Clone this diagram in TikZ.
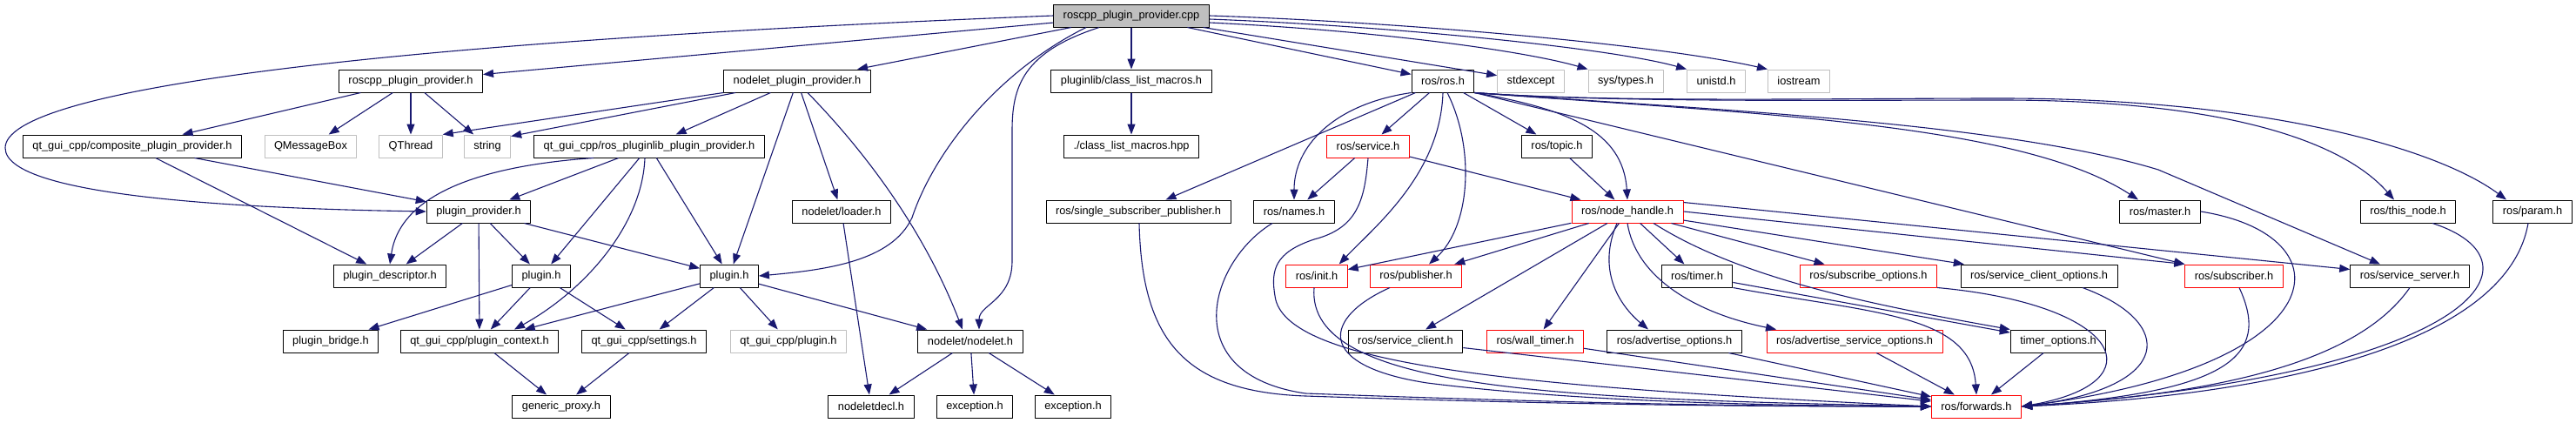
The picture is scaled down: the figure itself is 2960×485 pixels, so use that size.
\documentclass[tikz,border=0pt]{standalone}
\usepackage{fontspec}
\setmainfont{Liberation Sans}
\usetikzlibrary{arrows.meta}
\definecolor{edgeblue}{HTML}{191970}
\definecolor{extgray}{HTML}{BFBFBF}
\begin{document}
\begin{tikzpicture}[x=1pt, y=-1pt, font=\fontsize{12.8pt}{15pt}\selectfont, line join=round, >={Triangle[length=12pt,width=9pt]},
	box/.style={draw=black, fill=white, line width=1pt, minimum height=26pt, inner xsep=11pt, inner ysep=0pt},
	extbox/.style={box, draw=extgray},
	redbox/.style={box, draw=red},
	rootbox/.style={box, fill=extgray},
	edge/.style={->, draw=edgeblue, line width=1.1pt}]
	\def\ya{18} \def\yb{93} \def\yc{168} \def\yd{243}
	\def\ye{317} \def\yf{392} \def\yg{467}
	\fill[white] (0,0) rectangle (2960,485);
	\useasboundingbox (0,0) rectangle (2960,485);
	% rang 0-1
	\node[rootbox] (root) at (1300,\ya) {roscpp\_plugin\_provider.cpp};
	\node[box] (rpph) at (472,\yb) {roscpp\_plugin\_provider.h};
	\node[box] (npph) at (916,\yb) {nodelet\_plugin\_provider.h};
	\node[box] (clm) at (1300,\yb) {pluginlib/class\_list\_macros.h};
	\node[box] (rosh) at (1658,\yb) {ros/ros.h};
	\node[extbox] (stdexc) at (1759,\yb) {stdexcept};
	\node[extbox] (systypes) at (1868,\yb) {sys/types.h};
	\node[extbox] (unistd) at (1972,\yb) {unistd.h};
	\node[extbox] (iostr) at (2067,\yb) {iostream};
	% rang 2
	\node[box] (comp) at (152,\yc) {qt\_gui\_cpp/composite\_plugin\_provider.h};
	\node[extbox] (qmb) at (357,\yc) {QMessageBox};
	\node[extbox] (qthr) at (472,\yc) {QThread};
	\node[extbox] (strg) at (560,\yc) {string};
	\node[box] (rpl) at (746,\yc) {qt\_gui\_cpp/ros\_pluginlib\_plugin\_provider.h};
	\node[box] (clmhpp) at (1300,\yc) {./class\_list\_macros.hpp};
	\node[redbox] (service) at (1572,\yc) {ros/service.h};
	\node[box] (topic) at (1789,\yc) {ros/topic.h};
	% rang 3
	\node[box] (pprov) at (550,\yd) {plugin\_provider.h};
	\node[box] (loader) at (967,\yd) {nodelet/loader.h};
	\node[box] (ssp) at (1308,\yd) {ros/single\_subscriber\_publisher.h};
	\node[box] (names) at (1487,\yd) {ros/names.h};
	\node[redbox] (nh) at (1870,\yd) {ros/node\_handle.h};
	\node[box] (master) at (2482,\yd) {ros/master.h};
	\node[box] (thisnode) at (2767,\yd) {ros/this\_node.h};
	\node[box] (param) at (2910,\yd) {ros/param.h};
	% rang 4
	\node[box] (pdesc) at (448,\ye) {plugin\_descriptor.h};
	\node[box] (plugl) at (622,\ye) {plugin.h};
	\node[box] (plugm) at (838,\ye) {plugin.h};
	\node[redbox] (init) at (1513,\ye) {ros/init.h};
	\node[redbox] (publ) at (1627,\ye) {ros/publisher.h};
	\node[box] (timer) at (1950,\ye) {ros/timer.h};
	\node[redbox] (subopt) at (2147,\ye) {ros/subscribe\_options.h};
	\node[box] (sco) at (2343,\ye) {ros/service\_client\_options.h};
	\node[redbox] (subscr) at (2567,\ye) {ros/subscriber.h};
	\node[box] (sserv) at (2769,\ye) {ros/service\_server.h};
	% rang 5
	\node[box] (bridge) at (380,\yf) {plugin\_bridge.h};
	\node[box] (pctx) at (551,\yf) {qt\_gui\_cpp/plugin\_context.h};
	\node[box] (settings) at (740,\yf) {qt\_gui\_cpp/settings.h};
	\node[extbox] (qplug) at (906,\yf) {qt\_gui\_cpp/plugin.h};
	\node[box] (nodelet) at (1115,\yf) {nodelet/nodelet.h};
	\node[box] (sclient) at (1615,\yf) {ros/service\_client.h};
	\node[redbox] (wtimer) at (1764,\yf) {ros/wall\_timer.h};
	\node[box] (advopt) at (1924,\yf) {ros/advertise\_options.h};
	\node[redbox] (advsrv) at (2131,\yf) {ros/advertise\_service\_options.h};
	\node[box] (topt) at (2365,\yf) {timer\_options.h};
	% rang 6
	\node[box] (gproxy) at (645,\yg) {generic\_proxy.h};
	\node[box] (decl) at (1001,\yg) {nodeletdecl.h};
	\node[box] (excA) at (1120,\yg) {exception.h};
	\node[box] (excB) at (1233,\yg) {exception.h};
	\node[redbox] (fwd) at (2271,\yg) {ros/forwards.h};
	
	% roscpp_plugin_provider.cpp
	\draw[edge] (root)--(rpph);
	\draw[edge] (root)--(npph);
	\draw[edge] (root)--(clm);
	\draw[edge] (root)--(rosh);
	\draw[edge] (root)--(stdexc);
	\draw[edge] ([yshift=-8pt]root.east) .. controls (1580,35) and (1750,58) .. (systypes.north west);
	\draw[edge] ([yshift=-4pt]root.east) .. controls (1600,30) and (1850,55) .. (unistd.north west);
	\draw[edge] (root.east) .. controls (1600,25) and (1900,50) .. (iostr.north west);
	\draw[edge] (root.west) .. controls (400,50) and (6,105) .. (6,170) .. controls (6,228) and (300,240) .. (pprov.west);
	\draw[edge] ([xshift=-52pt]root.south) .. controls (1150,80) and (1075,170) .. (1048,250) .. controls (1025,300) and (950,310) .. (plugm.east);
	\draw[edge] ([xshift=-37pt]root.south) .. controls (1175,60) and (1163,100) .. (1163,150) -- (1163,300) .. controls (1163,345) and (1125,350) .. ([xshift=10pt]nodelet.north);
	% qt_gui_cpp
	\draw[edge] (rpph)--(comp);
	\draw[edge] (rpph)--(qmb);
	\draw[edge] (rpph)--(qthr);
	\draw[edge] (rpph)--(strg);
	\draw[edge] (npph.south west)--(qthr.north east);
	\draw[edge] ([xshift=14pt]npph.south west)--([yshift=-2pt]strg.north east);
	\draw[edge] (npph)--(rpl);
	\draw[edge] (npph)--(loader);
	\draw[edge] (npph)--(plugm);
	\draw[edge] ([xshift=12pt]npph.south) .. controls (990,170) and (1060,260) .. ([xshift=-9pt]nodelet.north);
	\draw[edge] (comp)--(pprov);
	\draw[edge] (comp)--(pdesc);
	\draw[edge] ([xshift=-64pt]rpl.south) .. controls (560,190) and (460,220) .. (pdesc.north);
	\draw[edge] (rpl)--(pprov);
	\draw[edge] (rpl)--(plugl);
	\draw[edge] ([xshift=-5pt]rpl.south) .. controls (738,260) and (670,335) .. ([xshift=40pt]pctx.north);
	\draw[edge] (rpl)--(plugm);
	\draw[edge] (pprov)--(pdesc);
	\draw[edge] (pprov)--(plugl);
	\draw[edge] (pprov)--(pctx);
	\draw[edge] (pprov)--(plugm);
	\draw[edge] (plugl)--(bridge);
	\draw[edge] (plugl)--(pctx);
	\draw[edge] (plugl)--(settings);
	\draw[edge] (plugm)--(pctx);
	\draw[edge] (plugm)--(settings);
	\draw[edge] (plugm)--(qplug);
	\draw[edge] (plugm)--(nodelet);
	\draw[edge] (pctx)--(gproxy);
	\draw[edge] (settings)--(gproxy);
	\draw[edge] (loader)--(decl);
	\draw[edge] (nodelet)--(decl);
	\draw[edge] (nodelet)--(excA);
	\draw[edge] (nodelet)--(excB);
	\draw[edge] (clm)--(clmhpp);
	% ros/ros.h
	\draw[edge] (rosh)--(ssp);
	\draw[edge] (rosh)--(service);
	\draw[edge] (rosh)--(topic);
	\draw[edge] (rosh.south west) .. controls (1530,120) and (1487,170) .. (names.north);
	\draw[edge] (rosh.south) .. controls (1655,200) and (1580,260) .. ([xshift=-10pt]init.north east);
	\draw[edge] ([xshift=5pt]rosh.south) .. controls (1695,170) and (1690,260) .. ([xshift=15pt]publ.north);
	\draw[edge] (rosh.south east) .. controls (1800,125) and (1865,150) .. (nh.north);
	\draw[edge] (rosh.south east)--(subscr.north west);
	\draw[edge] (rosh.south east) .. controls (2000,130) and (2320,140) .. ([xshift=-25pt]master.north);
	\draw[edge] (rosh.south east) .. controls (1950,125) and (2300,140) .. (2480,195) -- ([xshift=-34pt]sserv.north);
	\draw[edge] (rosh.south east) .. controls (1850,118) and (2100,115) .. (2300,115) .. controls (2550,115) and (2690,160) .. ([xshift=-16pt]thisnode.north);
	\draw[edge] (rosh.south east) .. controls (1850,118) and (2100,113) .. (2300,113) .. controls (2600,113) and (2800,170) .. ([xshift=-30pt]param.north);
	\draw[edge] (service)--(names);
	\draw[edge] (service)--(nh);
	\draw[edge] (topic)--(nh);
	% ros/node_handle.h
	\draw[edge] (nh)--(init);
	\draw[edge] (nh)--(publ);
	\draw[edge] (nh)--(sclient);
	\draw[edge] (nh)--(wtimer);
	\draw[edge] (nh)--(timer);
	\draw[edge] (nh)--(subopt);
	\draw[edge] (nh)--(sco);
	\draw[edge] (nh.east)--(subscr.north west);
	\draw[edge] ([yshift=-3pt]nh.north east)--([yshift=-6pt]sserv.north west);
	\draw[edge] ([xshift=-12pt]nh.south) .. controls (1835,310) and (1860,350) .. ([xshift=-30pt]advopt.north);
	\draw[edge] (nh.south) .. controls (1880,320) and (1950,360) .. ([xshift=-90pt]advsrv.north);
	\draw[edge] ([xshift=30pt]nh.south) .. controls (2000,320) and (2150,350) .. (topt.north west);
	\draw[edge] (timer)--(topt);
	% ros/forwards.h
	\draw[edge] ([xshift=1pt]ssp.south) .. controls (1312,390) and (1360,450) .. (1500,455) .. controls (1800,465) and (2000,467) .. (fwd.west);
	\draw[edge] ([xshift=-25pt]names.south) .. controls (1390,300) and (1350,430) .. (1500,452) .. controls (1800,463) and (2000,467) .. (fwd.west);
	\draw[edge] (service.south) .. controls (1568,230) and (1560,262) .. (1510,275) .. controls (1465,290) and (1460,310) .. (1465,340) .. controls (1475,420) and (1750,445) .. (fwd.west);
	\draw[edge] ([xshift=-3pt]init.south) .. controls (1500,450) and (1800,458) .. (fwd.west);
	\draw[edge] ([xshift=-30pt]publ.south) .. controls (1520,365) and (1510,420) .. (1640,440) .. controls (1800,460) and (2000,466) .. (fwd.west);
	\draw[edge] (sclient)--(fwd);
	\draw[edge] (wtimer)--(fwd);
	\draw[edge] (advopt)--(fwd);
	\draw[edge] (advsrv)--(fwd);
	\draw[edge] (topt)--(fwd);
	\draw[edge] (timer.south east) .. controls (2150,360) and (2265,360) .. (fwd.north);
	\draw[edge] (subopt.south east) .. controls (2440,350) and (2480,440) .. (fwd.east);
	\draw[edge] ([xshift=50pt]sco.south) .. controls (2500,370) and (2500,445) .. (fwd.east);
	\draw[edge] ([xshift=6pt]subscr.south) .. controls (2610,410) and (2560,450) .. (fwd.east);
	\draw[edge] (sserv.south) .. controls (2700,430) and (2500,455) .. (fwd.east);
	\draw[edge] (master.east) .. controls (2700,270) and (2690,420) .. (fwd.east);
	\draw[edge] ([xshift=28pt]thisnode.south) .. controls (2930,300) and (2850,430) .. (fwd.east);
	\draw[edge] ([xshift=-5pt]param.south) .. controls (2880,400) and (2600,455) .. (fwd.east);
\end{tikzpicture}
\end{document}
